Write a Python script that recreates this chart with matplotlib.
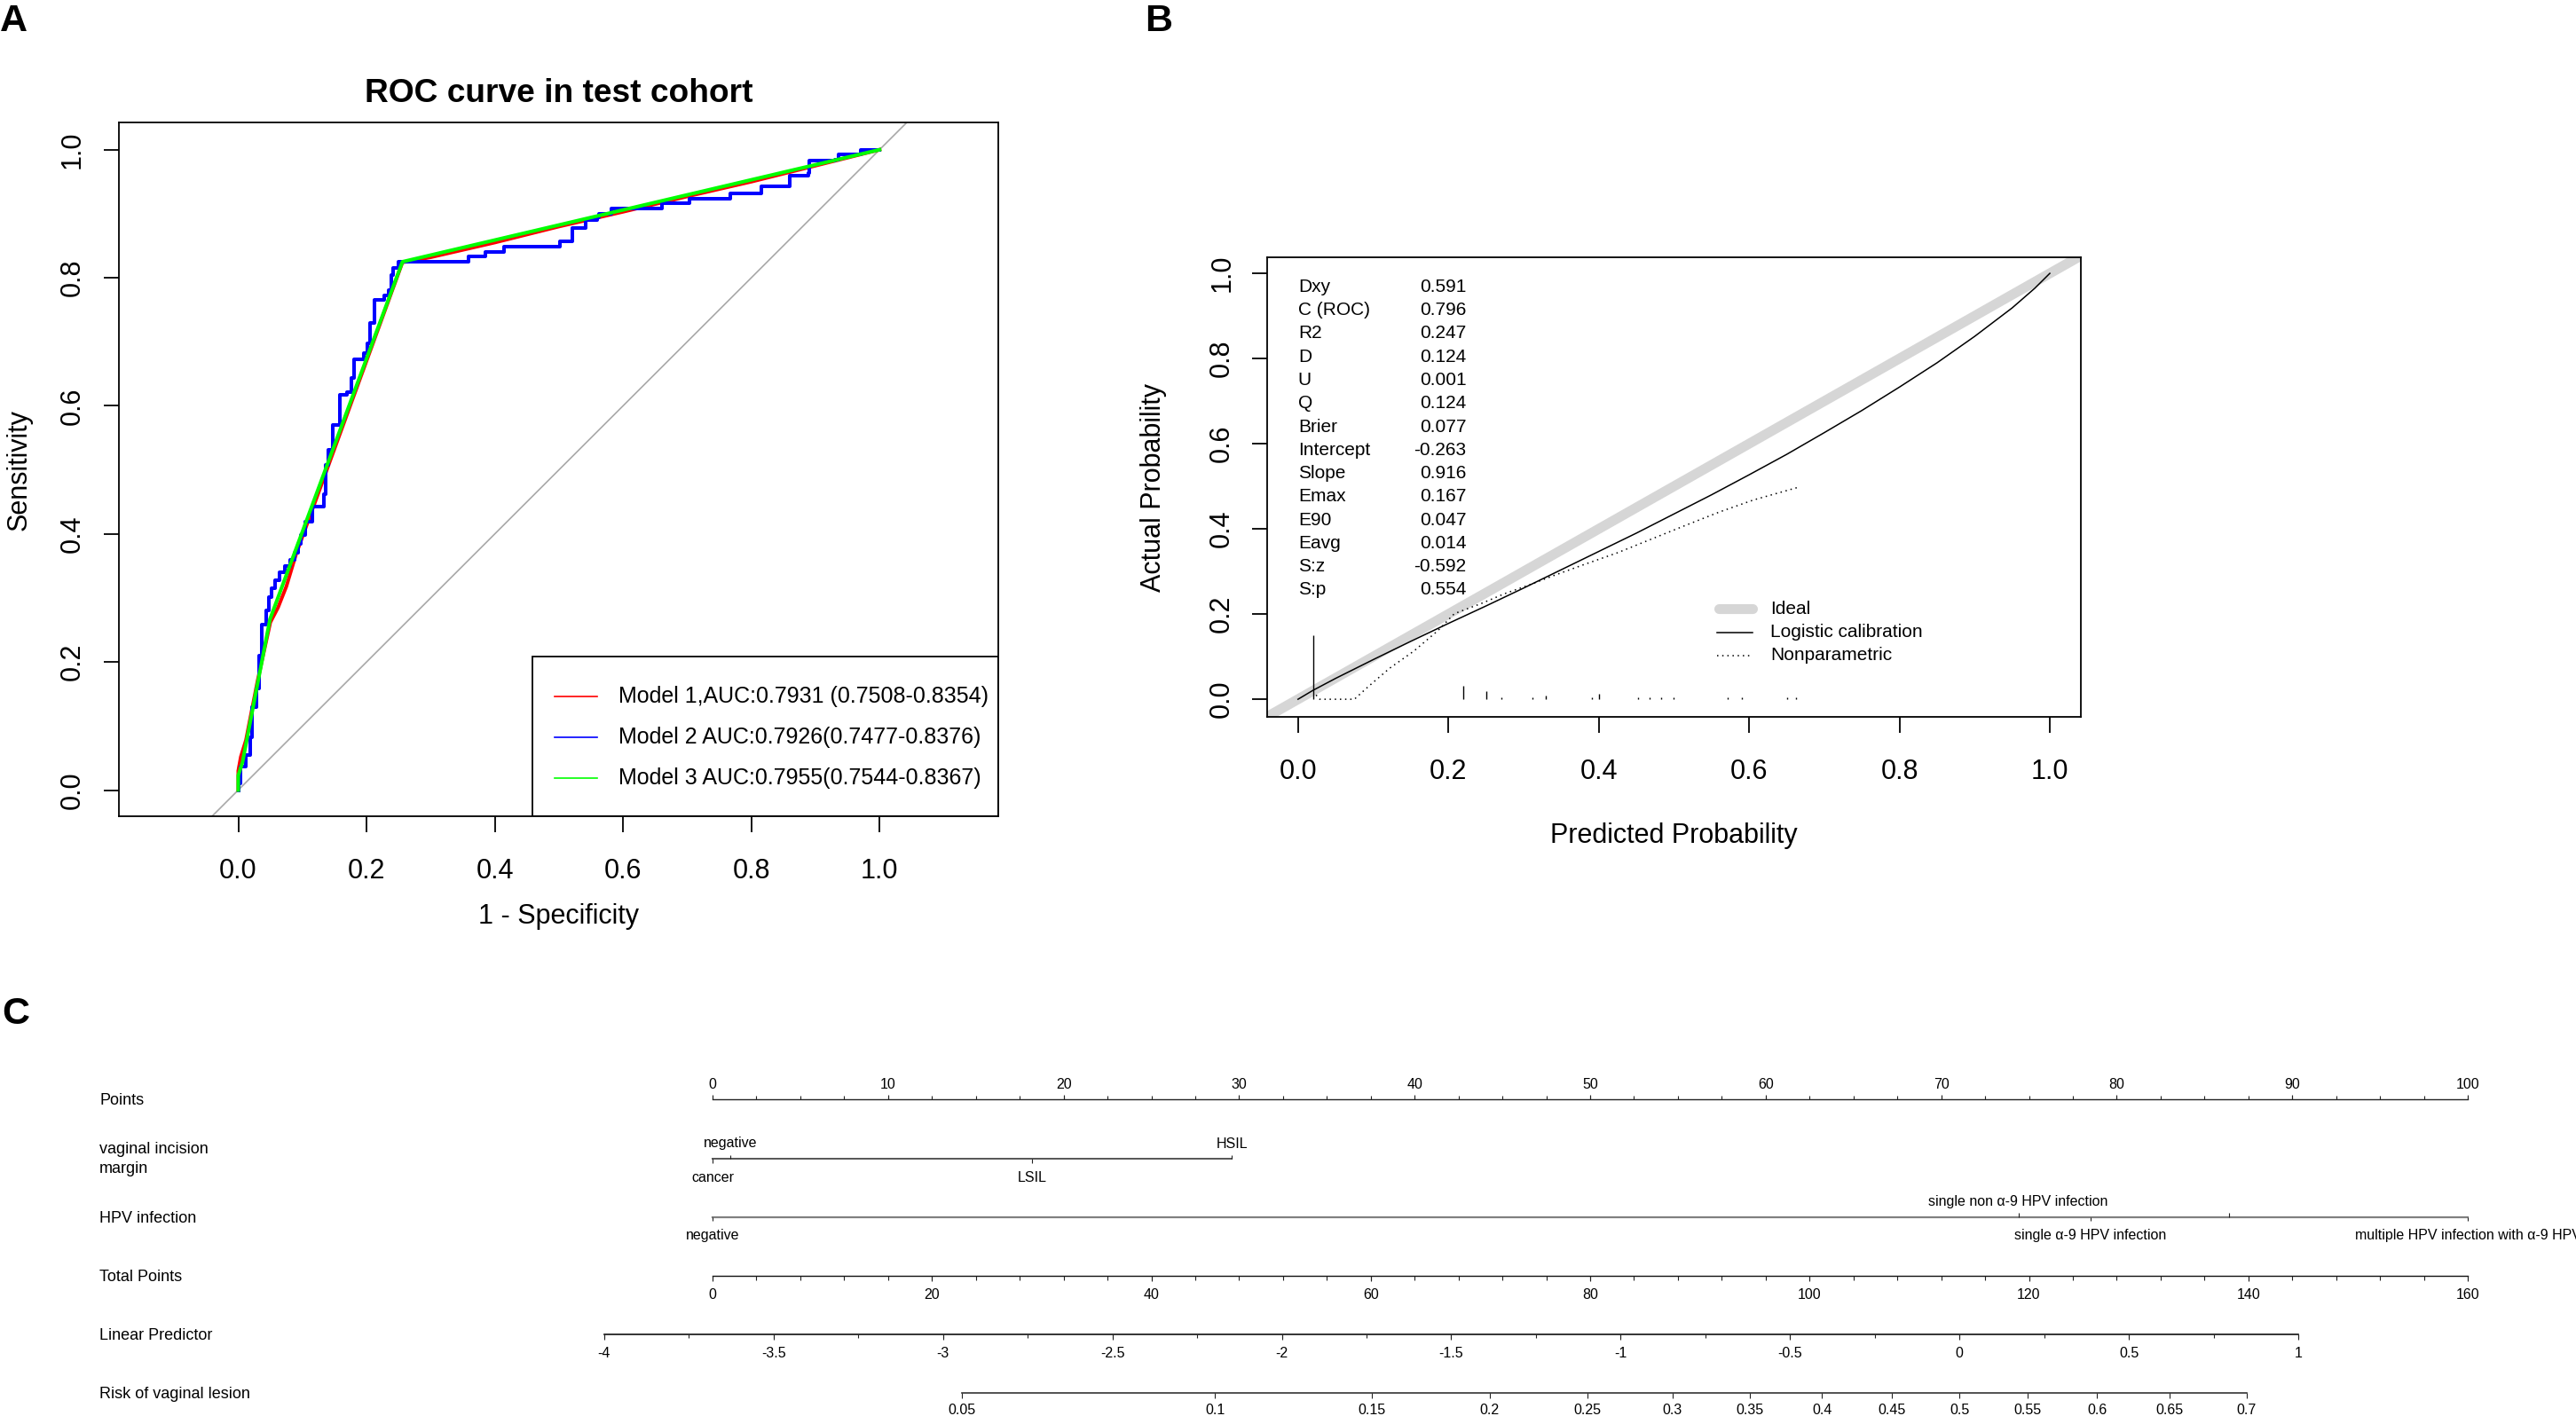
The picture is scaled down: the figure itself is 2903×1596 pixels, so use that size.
import numpy as np
import matplotlib
matplotlib.use("Agg")
import matplotlib.pyplot as plt
from matplotlib.patches import Rectangle
from matplotlib.ticker import FormatStrFormatter

plt.rcParams["font.family"] = ["Liberation Sans", "DejaVu Sans"]

W, H = 2903, 1596

# ---------------- A: ROC curves in test cohort (1 - specificity, sensitivity)
roc1_fpr = [0.000, 0.000, 0.004, 0.012, 0.030, 0.050, 0.062, 0.075, 0.090, 0.256,
            0.300, 0.400, 0.500, 0.600, 0.700, 0.800, 0.900, 1.000]
roc1_tpr = [0.000, 0.030, 0.052, 0.078, 0.170, 0.262, 0.285, 0.318, 0.368, 0.824,
            0.832, 0.855, 0.880, 0.903, 0.927, 0.950, 0.975, 1.000]

# model 2 is a step curve: x where sensitivity rises, level after the rise
roc2_fpr = [0.000, 0.000, 0.004, 0.012, 0.018, 0.022, 0.029, 0.032, 0.036, 0.044,
            0.048, 0.052, 0.058, 0.064, 0.072, 0.081, 0.088, 0.094, 0.098, 0.104,
            0.115, 0.133, 0.136, 0.141, 0.147, 0.158, 0.170, 0.176, 0.181, 0.196,
            0.202, 0.206, 0.212, 0.227, 0.235, 0.238, 0.241, 0.250, 0.359, 0.386,
            0.414, 0.502, 0.521, 0.542, 0.560, 0.563, 0.582, 0.661, 0.703, 0.767,
            0.815, 0.860, 0.889, 0.891, 0.931, 0.936, 0.971, 1.000]
roc2_tpr = [0.000, 0.010, 0.037, 0.055, 0.083, 0.129, 0.158, 0.210, 0.258, 0.280,
            0.302, 0.315, 0.327, 0.340, 0.350, 0.360, 0.371, 0.385, 0.399, 0.419,
            0.442, 0.462, 0.508, 0.531, 0.570, 0.617, 0.622, 0.643, 0.672, 0.683,
            0.698, 0.729, 0.766, 0.772, 0.781, 0.804, 0.816, 0.825, 0.833, 0.840,
            0.849, 0.857, 0.877, 0.890, 0.895, 0.900, 0.908, 0.916, 0.924, 0.932,
            0.943, 0.959, 0.964, 0.983, 0.985, 0.993, 1.000, 1.000]

roc3_fpr = [0.000, 0.000, 0.0065, 0.0495, 0.256, 1.000]
roc3_tpr = [0.000, 0.023, 0.043, 0.267, 0.825, 1.000]

roc_labels = ["Model 1,AUC:0.7931 (0.7508-0.8354)",
              "Model 2 AUC:0.7926(0.7477-0.8376)",
              "Model 3 AUC:0.7955(0.7544-0.8367)"]
roc_colors = ["#FF0000", "#0000FF", "#00FF00"]

# ---------------- B: calibration
cal_pred = [0.00, 0.02, 0.05, 0.10, 0.15, 0.20, 0.25, 0.30, 0.35, 0.40, 0.45, 0.50,
            0.55, 0.60, 0.65, 0.70, 0.75, 0.80, 0.85, 0.90, 0.95, 0.98, 1.00]
cal_logistic = [0.000, 0.021, 0.049, 0.093, 0.136, 0.178, 0.219, 0.261, 0.304, 0.347,
                0.390, 0.435, 0.480, 0.527, 0.575, 0.626, 0.678, 0.733, 0.790, 0.852,
                0.919, 0.965, 1.000]
nonpar_pred = [0.024, 0.029, 0.050, 0.075, 0.093, 0.122, 0.154, 0.186, 0.208, 0.244,
               0.275, 0.307, 0.338, 0.380, 0.425, 0.470, 0.515, 0.561, 0.606, 0.664]
nonpar_obs = [0.010, 0.000, 0.000, 0.000, 0.029, 0.073, 0.113, 0.161, 0.201, 0.225,
              0.248, 0.268, 0.289, 0.316, 0.344, 0.376, 0.408, 0.440, 0.468, 0.497]
spike_x = [0.020, 0.220, 0.250, 0.270, 0.312, 0.330, 0.391, 0.400, 0.452, 0.468,
           0.483, 0.500, 0.572, 0.590, 0.651, 0.662]
spike_h = [0.151, 0.032, 0.018, 0.004, 0.004, 0.008, 0.004, 0.013, 0.004, 0.004,
           0.004, 0.004, 0.004, 0.004, 0.004, 0.004]
stats_names = ["Dxy", "C (ROC)", "R2", "D", "U", "Q", "Brier", "Intercept", "Slope",
               "Emax", "E90", "Eavg", "S:z", "S:p"]
stats_values = ["0.591", "0.796", "0.247", "0.124", "0.001", "0.124", "0.077",
                "-0.263", "0.916", "0.167", "0.047", "0.014", "-0.592", "0.554"]
cal_labels = ["Ideal", "Logistic calibration", "Nonparametric"]

# ---------------- C: nomogram
points_ticks = [0, 10, 20, 30, 40, 50, 60, 70, 80, 90, 100]
vaginal_levels = ["cancer", "negative", "LSIL", "HSIL"]
vaginal_points = [0.0, 1.0, 18.2, 29.6]
hpv_levels = ["negative", "single non \u03b1-9 HPV infection", "single \u03b1-9 HPV infection",
              "", "multiple HPV infection with \u03b1-9 HPV"]
hpv_points = [0.0, 74.4, 78.5, 86.4, 100.0]
total_ticks = [0, 20, 40, 60, 80, 100, 120, 140, 160]
lp_ticks = [-4, -3.5, -3, -2.5, -2, -1.5, -1, -0.5, 0, 0.5, 1]
risk_ticks = [0.05, 0.1, 0.15, 0.2, 0.25, 0.3, 0.35, 0.4, 0.45, 0.5, 0.55, 0.6, 0.65, 0.7]
lp_at_zero, lp_at_max = -3.68, 1.50      # linear predictor at 0 and at 160 total points
total_max = 160
nomo_rows = ["Points", "vaginal incision\nmargin", "HPV infection", "Total Points",
             "Linear Predictor", "Risk of vaginal lesion"]

fig = plt.figure(figsize=(W / 100, H / 100), dpi=100)


def px_axes(left, top, right, bottom):
    return fig.add_axes([left / W, 1 - bottom / H, (right - left) / W, (bottom - top) / H])


# ======================= A =======================
axA = px_axes(134.3, 138.4, 1124.7, 920.1)
axA.axline((0, 0), (1, 1), color="#A8A8A8", lw=1.2, zorder=1)
axA.plot(roc1_fpr, roc1_tpr, color=roc_colors[0], lw=2.9, zorder=2)
axA.plot(roc2_fpr, roc2_tpr, color=roc_colors[1], lw=2.9, drawstyle="steps-post", zorder=3)
axA.plot(roc3_fpr, roc3_tpr, color=roc_colors[2], lw=2.9, zorder=4)
axA.set_xlim(-0.1857, 1.1847)
axA.set_ylim(-0.041, 1.042)

unit_ticks = [0.0, 0.2, 0.4, 0.6, 0.8, 1.0]
axA.set_xticks(unit_ticks)
axA.set_yticks(unit_ticks)
axA.xaxis.set_major_formatter(FormatStrFormatter("%.1f"))
axA.yaxis.set_major_formatter(FormatStrFormatter("%.1f"))
axA.tick_params(axis="x", length=13, width=1.3, labelsize=22, pad=20.9)
axA.tick_params(axis="y", length=12.2, width=1.3, labelsize=22, pad=14.9, labelrotation=90)
plt.setp(axA.get_yticklabels(), va="center")
for s in axA.spines.values():
    s.set_linewidth(1.3)

axA.set_title("ROC curve in test cohort", fontsize=26.7, fontweight="bold", pad=16.6)
axA.set_xlabel("1 - Specificity", fontsize=22, va="center")
axA.xaxis.set_label_coords(0.5, (920.1 - 1033) / 781.7)
axA.set_ylabel("Sensitivity", fontsize=22, va="center")
axA.yaxis.set_label_coords((22 - 134.3) / 990.4, 0.5)

# legend box in the lower right corner
leg_left, leg_top = 0.4703, 0.2308
axA.add_patch(Rectangle((leg_left, 0), 1 - leg_left, leg_top, transform=axA.transAxes,
                        fill=False, ec="black", lw=1.3, zorder=5))
for i, (lab, col) in enumerate(zip(roc_labels, roc_colors)):
    yy = [0.1727, 0.1136, 0.0555][i]
    axA.plot([0.4956, 0.5444], [yy, yy], color=col, lw=1.2, transform=axA.transAxes, zorder=6)
    axA.text(0.5682, yy, lab, fontsize=18, va="center", ha="left", transform=axA.transAxes, zorder=6)

# ======================= B =======================
axB = px_axes(1428.3, 290, 2344.6, 808.3)
axB.axline((0, 0), (1, 1), color="#D6D6D6", lw=8, zorder=1)
axB.plot(cal_pred, cal_logistic, color="black", lw=1.1, zorder=3)
axB.plot(nonpar_pred, nonpar_obs, color="black", lw=1.1, linestyle=(0, (1, 2.8)), zorder=3)
axB.vlines(spike_x, 0, spike_h, color="black", lw=1.0, zorder=3)
axB.set_xlim(-0.0407, 1.0408)
axB.set_ylim(-0.042, 1.0377)
axB.set_xticks(unit_ticks)
axB.set_yticks(unit_ticks)
axB.xaxis.set_major_formatter(FormatStrFormatter("%.1f"))
axB.yaxis.set_major_formatter(FormatStrFormatter("%.1f"))
axB.tick_params(axis="x", length=13, width=1.3, labelsize=22, pad=20.5)
axB.tick_params(axis="y", length=12.2, width=1.3, labelsize=22, pad=13.8, labelrotation=90)
plt.setp(axB.get_yticklabels(), va="center")
for s in axB.spines.values():
    s.set_linewidth(1.3)
axB.set_xlabel("Predicted Probability", fontsize=22, va="center")
axB.xaxis.set_label_coords(0.5, (808.3 - 942.4) / 518.3)
axB.set_ylabel("Actual Probability", fontsize=22, va="center")
axB.yaxis.set_label_coords((1300 - 1428.3) / 916.3, 0.5)

for i, (name, val) in enumerate(zip(stats_names, stats_values)):
    yy = 0.968 - i * 0.0547
    axB.text(0.0, yy, name, fontsize=15, ha="left", va="center")
    axB.text(0.2238, yy, val, fontsize=15, ha="right", va="center")

leg_rows = [0.2127, 0.1571, 0.1027]
axB.plot([0.5592, 0.6040], [leg_rows[0]] * 2, color="#D6D6D6", lw=8, solid_capstyle="round")
axB.plot([0.557, 0.6046], [leg_rows[1]] * 2, color="black", lw=1.1)
axB.plot([0.557, 0.6046], [leg_rows[2]] * 2, color="black", lw=1.1, linestyle=(0, (1, 2.8)))
for yy, lab in zip(leg_rows, cal_labels):
    axB.text(0.628, yy, lab, fontsize=15, ha="left", va="center")

# ======================= C =======================
nomo_x0, nomo_px = 803.0, 19.78     # pixel of 0 points, pixels per point


def px_to_pts(px):
    return (px - nomo_x0) / nomo_px


def total_to_pts(t):
    return np.asarray(t, float) * 100.0 / total_max


def lp_to_pts(lp):
    return (np.asarray(lp, float) - lp_at_zero) / (lp_at_max - lp_at_zero) * 100.0


def risk_to_pts(p):
    p = np.asarray(p, float)
    return lp_to_pts(np.log(p / (1 - p)))


axC = fig.add_axes([0, 0, 1, (H - 1170) / H])
axC.set_xlim(px_to_pts(0), px_to_pts(W))
axC.set_ylim(H, 1170)
axC.axis("off")

row_y = [1239.3, 1306.0, 1371.7, 1438.3, 1504.0, 1570.0]
lab_x = px_to_pts(112)
tfs = 11.5
for name, yy in zip(nomo_rows, row_y):
    if "\n" in name:
        first, second = name.split("\n")
        axC.text(lab_x, 1296, first, fontsize=13, ha="left", va="center")
        axC.text(lab_x, 1317.7, second, fontsize=13, ha="left", va="center")
    else:
        axC.text(lab_x, yy + 1.5, name, fontsize=13, ha="left", va="center")

# Points
y0 = row_y[0]
axC.plot([0, 100], [y0, y0], color="#222222", lw=1.0)
minor = np.arange(0, 100.1, 2.5)
axC.vlines(minor, y0 - 4, y0, color="#222222", lw=0.8)
axC.vlines(points_ticks, y0 - 5.7, y0, color="#222222", lw=0.8)
for t in points_ticks:
    axC.text(t, y0 - 17, str(t), fontsize=tfs, ha="center", va="center")

# categorical rows: label above when the tick points up
vaginal_up = [False, True, False, True]
hpv_up = [False, True, False, True, False]
for yy, levels, pts, ups, col, lw in [
        (row_y[1], vaginal_levels, vaginal_points, vaginal_up, "#555555", 1.4),
        (row_y[2], hpv_levels, hpv_points, hpv_up, "#808080", 1.6)]:
    axC.plot([min(pts), max(pts)], [yy, yy], color=col, lw=lw)
    for lev, p, up in zip(levels, pts, ups):
        if up:
            axC.vlines(p, yy - 4.5, yy, color="#222222", lw=0.8)
            axC.text(p, yy - 17, lev, fontsize=tfs, ha="center", va="center")
        else:
            axC.vlines(p, yy, yy + 4.5, color="#222222", lw=0.8)
            axC.text(p, yy + 21, lev, fontsize=tfs, ha="center", va="center")

# Total points
y3 = row_y[3]
axC.plot(total_to_pts([0, total_max]), [y3, y3], color="#111111", lw=1.0)
axC.vlines(total_to_pts(np.arange(0, total_max + 0.1, 4)), y3, y3 + 4.3, color="#222222", lw=0.8)
axC.vlines(total_to_pts(total_ticks), y3, y3 + 6, color="#222222", lw=0.8)
for t, x in zip(total_ticks, total_to_pts(total_ticks)):
    axC.text(x, y3 + 20.7, str(t), fontsize=tfs, ha="center", va="center")

# Linear predictor
y4 = row_y[4]
axC.plot(lp_to_pts([lp_ticks[0], lp_ticks[-1]]), [y4, y4], color="#111111", lw=1.2)
axC.vlines(lp_to_pts(np.arange(lp_ticks[0], lp_ticks[-1] + 0.01, 0.25)), y4, y4 + 4,
           color="#222222", lw=0.8)
axC.vlines(lp_to_pts(lp_ticks), y4, y4 + 6, color="#222222", lw=0.8)
for t, x in zip(lp_ticks, lp_to_pts(lp_ticks)):
    axC.text(x, y4 + 21, f"{t:g}", fontsize=tfs, ha="center", va="center")

# Risk
y5 = row_y[5]
axC.plot(risk_to_pts([risk_ticks[0], risk_ticks[-1]]), [y5, y5], color="#333333", lw=1.2)
axC.vlines(risk_to_pts(risk_ticks), y5, y5 + 6, color="#222222", lw=0.8)
for t, x in zip(risk_ticks, risk_to_pts(risk_ticks)):
    axC.text(x, y5 + 20, f"{t:g}", fontsize=tfs, ha="center", va="center")

# panel letters
for letter, x, base in [("A", 0, 35), ("B", 1290, 35), ("C", 2, 1154)]:
    fig.text(x / W, 1 - base / H, letter, fontsize=31, fontweight="bold",
             ha="left", va="baseline")

fig.savefig("out.png", dpi=100)
